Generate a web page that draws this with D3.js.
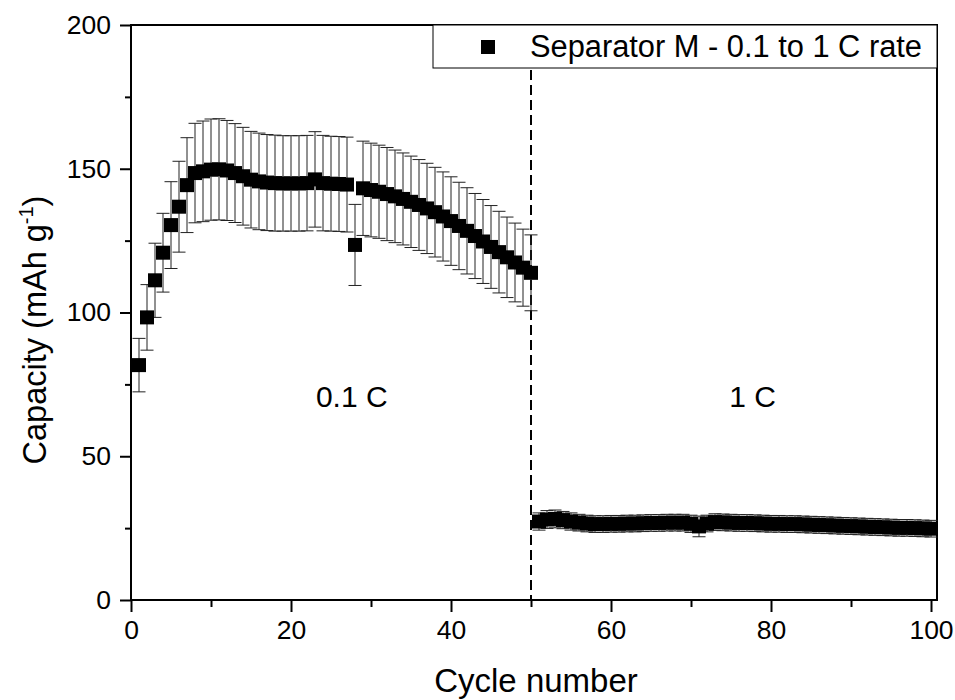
<!DOCTYPE html>
<html>
<head>
<meta charset="utf-8">
<script src="https://cdn.jsdelivr.net/npm/d3@7"></script>
<style>
  body { margin: 0; background: #fff; }
  text { font-family: "Liberation Sans", Arial, sans-serif; fill: #000; }
</style>
</head>
<body>
<div id="container"></div>
<script>

// 0.1 C rate, cycles 1..50
const capacityLow = [81.7, 98.3, 111.2, 120.8, 130.4, 136.8, 144.3, 148.5, 149.1, 149.7,
  149.8, 149.4, 148.5, 147.4, 146.2, 145.6, 145.2, 145.0, 144.9, 144.9,
  144.9, 145.0, 146.3, 145.0, 144.8, 144.7, 144.5, 123.5, 143.2, 142.6,
  142.0, 141.2, 140.4, 139.5, 138.5, 137.4, 136.2, 134.9, 133.4, 131.8,
  130.1, 128.4, 126.6, 124.7, 122.8, 121.0, 119.2, 117.4, 115.6, 113.8];
const errorLow = [9.3, 11.4, 12.9, 13.7, 15.1, 15.8, 16.5, 17.3, 17.5, 17.6,
  17.6, 17.4, 17.2, 17.0, 16.8, 16.8, 16.7, 16.7, 16.6, 16.6,
  16.6, 16.6, 16.6, 16.6, 16.5, 16.5, 16.5, 14.1, 16.4, 16.3,
  16.2, 16.2, 16.1, 16.0, 15.9, 15.8, 15.7, 15.6, 15.5, 15.4,
  15.2, 15.0, 14.8, 14.6, 14.4, 14.2, 14.0, 13.7, 13.4, 13.2];

// 1 C rate, cycles 51..100
const capacityHigh = [27.3, 28.0, 28.2, 27.8, 27.3, 26.9, 26.6, 26.4, 26.4, 26.5,
  26.5, 26.6, 26.6, 26.7, 26.8, 26.8, 26.9, 26.9, 26.9, 26.5,
  25.6, 26.6, 27.1, 27.0, 26.9, 26.8, 26.8, 26.7, 26.6, 26.5,
  26.5, 26.4, 26.4, 26.3, 26.2, 26.1, 26.0, 25.9, 25.8, 25.7,
  25.6, 25.5, 25.4, 25.3, 25.2, 25.1, 25.1, 25.0, 24.9, 24.8];
const errorHigh = [3.0, 3.1, 3.1, 3.0, 3.0, 2.9, 2.9, 2.9, 2.9, 2.9,
  2.9, 2.9, 2.9, 2.9, 2.9, 2.9, 2.9, 2.9, 2.9, 3.0,
  3.6, 2.9, 2.9, 2.9, 2.9, 2.9, 2.9, 2.9, 2.9, 2.9,
  2.9, 2.9, 2.9, 2.9, 2.9, 2.9, 2.9, 2.9, 2.9, 2.9,
  2.9, 2.9, 2.9, 2.9, 2.9, 2.9, 2.9, 2.9, 2.9, 2.9];

const xMajor = [0, 20, 40, 60, 80, 100];
const xMinor = [10, 30, 50, 70, 90];
const yMajor = [0, 50, 100, 150, 200];
const yMinor = [25, 75, 125, 175];
const rateSwitch = 50;
const legendLabel = "Separator M - 0.1 to 1 C rate";
const regionLabels = [{ text: "0.1 C", x: 27.6 }, { text: "1 C", x: 77.7 }];

const data = capacityLow.map((v, i) => ({ cycle: i + 1, cap: v, err: errorLow[i] }))
  .concat(capacityHigh.map((v, i) => ({ cycle: i + 51, cap: v, err: errorHigh[i] })));

const width = 955, height = 700;
const m = { left: 131, right: 937, top: 25, bottom: 600 };

const x = d3.scaleLinear().domain([0, 100.75]).range([m.left, m.right]);
const y = d3.scaleLinear().domain([0, 200]).range([m.bottom, m.top]);

const svg = d3.select("#container").append("svg")
  .attr("width", width).attr("height", height);

// axes
const gx = svg.append("g").attr("transform", `translate(0,${m.bottom})`);
gx.call(d3.axisBottom(x).tickValues(xMajor).tickSize(12).tickPadding(8).tickFormat(d3.format("d")));
gx.append("g").call(d3.axisBottom(x).tickValues(xMinor).tickSize(7).tickFormat(""));

const gy = svg.append("g").attr("transform", `translate(${m.left},0)`);
gy.call(d3.axisLeft(y).tickValues(yMajor).tickSize(11).tickPadding(9).tickFormat(d3.format("d")));
gy.append("g").call(d3.axisLeft(y).tickValues(yMinor).tickSize(6).tickFormat(""));

svg.selectAll(".domain").remove();
svg.selectAll(".tick line").attr("stroke", "#000").attr("stroke-width", 2);
svg.selectAll(".tick text").style("font-size", "26.5px").style("font-family", "Liberation Sans, Arial, sans-serif");

// frame
svg.append("rect")
  .attr("x", m.left).attr("y", m.top)
  .attr("width", m.right - m.left).attr("height", m.bottom - m.top)
  .attr("fill", "none").attr("stroke", "#000").attr("stroke-width", 2);

// legend box
const lg = svg.append("g");
lg.append("rect")
  .attr("x", 433).attr("y", m.top).attr("width", m.right - 433).attr("height", 43)
  .attr("fill", "#fff").attr("stroke", "#000").attr("stroke-width", 1);
lg.append("rect").attr("x", 481).attr("y", 40).attr("width", 14).attr("height", 14).attr("fill", "#000");
lg.append("text").attr("x", 530).attr("y", 57).style("font-size", "30.8px").text(legendLabel);

// dashed rate switch line
svg.append("line")
  .attr("x1", x(rateSwitch)).attr("x2", x(rateSwitch))
  .attr("y1", 70).attr("y2", m.bottom)
  .attr("stroke", "#000").attr("stroke-width", 2)
  .attr("stroke-dasharray", "10,5");

// error bars
const eb = svg.append("g").attr("stroke", "#222").attr("stroke-width", 1);
eb.selectAll("line.v").data(data).enter().append("line")
  .attr("x1", d => x(d.cycle)).attr("x2", d => x(d.cycle))
  .attr("y1", d => y(d.cap + d.err)).attr("y2", d => y(d.cap - d.err));
eb.selectAll("line.t").data(data).enter().append("line")
  .attr("x1", d => x(d.cycle) - 6.5).attr("x2", d => x(d.cycle) + 6.5)
  .attr("y1", d => y(d.cap + d.err)).attr("y2", d => y(d.cap + d.err));
eb.selectAll("line.b").data(data).enter().append("line")
  .attr("x1", d => x(d.cycle) - 6.5).attr("x2", d => x(d.cycle) + 6.5)
  .attr("y1", d => y(d.cap - d.err)).attr("y2", d => y(d.cap - d.err));

// squares
svg.append("g").selectAll("rect").data(data).enter().append("rect")
  .attr("x", d => x(d.cycle) - 7).attr("y", d => y(d.cap) - 7)
  .attr("width", 14).attr("height", 14).attr("fill", "#000");

// region labels
svg.selectAll("text.region").data(regionLabels).enter().append("text")
  .attr("class", "region")
  .attr("x", d => x(d.x)).attr("y", 407)
  .attr("text-anchor", "middle").style("font-size", "30px")
  .text(d => d.text);

// axis titles
svg.append("text").attr("x", 536).attr("y", 692)
  .attr("text-anchor", "middle").style("font-size", "33px").text("Cycle number");

const yt = svg.append("text")
  .attr("transform", "translate(46,330) rotate(-90)")
  .attr("text-anchor", "middle").style("font-size", "32.5px");
yt.append("tspan").text("Capacity (mAh g");
yt.append("tspan").attr("dy", -13).style("font-size", "20px").text("-1");
yt.append("tspan").attr("dy", 13).text(")");

</script>
</body>
</html>
